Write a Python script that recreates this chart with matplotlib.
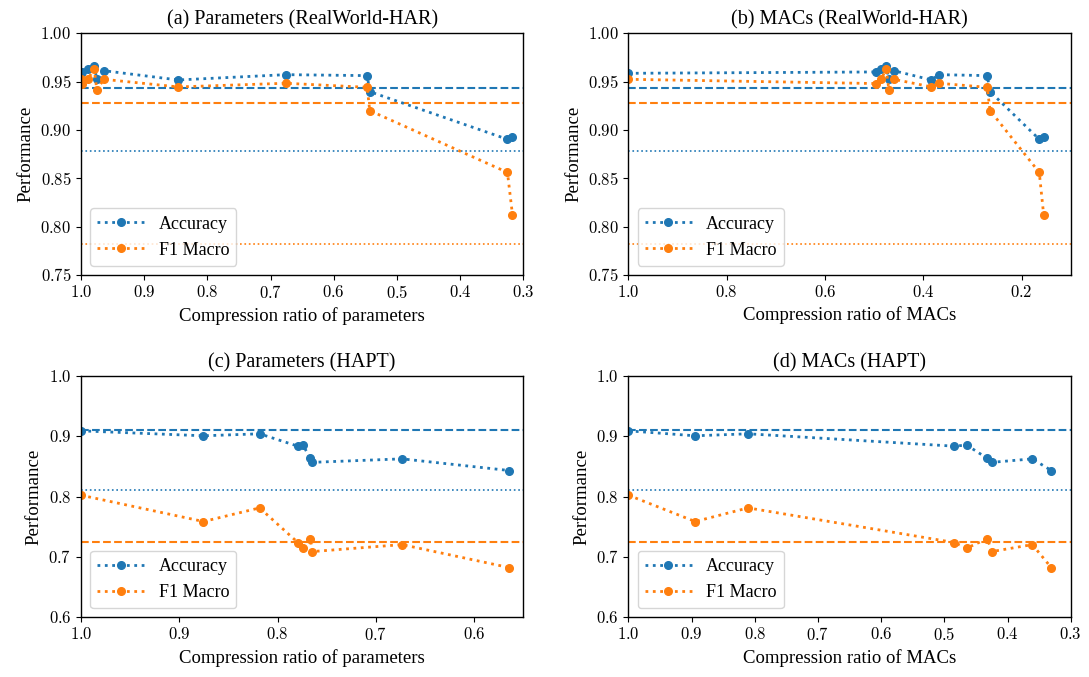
import numpy as np
import matplotlib
matplotlib.use("Agg")
import matplotlib.pyplot as plt
from matplotlib.ticker import FuncFormatter

plt.rcParams['font.family'] = 'Liberation Serif'
plt.rcParams['mathtext.fontset'] = 'cm'

# RealWorld-HAR: baseline first, then the compressed models
har_params = [1.0, 0.998, 0.989, 0.979, 0.975, 0.964, 0.846, 0.676, 0.547, 0.543, 0.325, 0.317]
har_macs = [1.0, 0.497, 0.4855, 0.4753, 0.470, 0.460, 0.3834, 0.3685, 0.270, 0.264, 0.164, 0.155]
har_acc = [0.9586, 0.960, 0.963, 0.966, 0.9524, 0.9613, 0.9517, 0.9572, 0.9562, 0.9396, 0.8903, 0.8931]
har_f1 = [0.9524, 0.948, 0.953, 0.963, 0.9414, 0.9524, 0.9445, 0.9483, 0.9441, 0.920, 0.856, 0.812]
har_ref = {'acc_dashed': 0.9434, 'f1_dashed': 0.9279, 'acc_dotted': 0.878, 'f1_dotted': 0.782}

# HAPT
hapt_params = [1.0, 0.8754, 0.8183, 0.7793, 0.7742, 0.7667, 0.765, 0.6733, 0.5643]
hapt_macs = [1.0, 0.8945, 0.8107, 0.4842, 0.4647, 0.432, 0.425, 0.3608, 0.3307]
hapt_acc = [0.9088, 0.9006, 0.9039, 0.8834, 0.8853, 0.8632, 0.8566, 0.8624, 0.8431]
hapt_f1 = [0.8022, 0.7586, 0.7812, 0.7238, 0.7144, 0.7304, 0.7088, 0.7204, 0.6823]
hapt_ref = {'acc_dashed': 0.910, 'f1_dashed': 0.7254, 'acc_dotted': 0.8116}

blue = '#1f77b4'
orange = '#ff7f0e'

fig, axes = plt.subplots(2, 2, figsize=(10.89, 6.77), dpi=100)
fig.subplots_adjust(left=0.0744, right=0.9832, top=0.9508, bottom=0.0882,
                    wspace=0.238, hspace=0.418)

panels = [
    (axes[0, 0], har_params, har_acc, har_f1, har_ref, '(a) Parameters (RealWorld-HAR)',
     'Compression ratio of parameters', (1.0, 0.3), np.arange(1.0, 0.25, -0.1), (0.75, 1.0), np.arange(0.75, 1.001, 0.05), '%.2f'),
    (axes[0, 1], har_macs, har_acc, har_f1, har_ref, '(b) MACs (RealWorld-HAR)',
     'Compression ratio of MACs', (1.0, 0.1), np.arange(1.0, 0.15, -0.2), (0.75, 1.0), np.arange(0.75, 1.001, 0.05), '%.2f'),
    (axes[1, 0], hapt_params, hapt_acc, hapt_f1, hapt_ref, '(c) Parameters (HAPT)',
     'Compression ratio of parameters', (1.0, 0.55), np.arange(1.0, 0.55, -0.1), (0.6, 1.0), np.arange(0.6, 1.001, 0.1), '%.1f'),
    (axes[1, 1], hapt_macs, hapt_acc, hapt_f1, hapt_ref, '(d) MACs (HAPT)',
     'Compression ratio of MACs', (1.0, 0.3), np.arange(1.0, 0.25, -0.1), (0.6, 1.0), np.arange(0.6, 1.001, 0.1), '%.1f'),
]

for ax, x, acc, f1, ref, title, xlabel, xlim, xticks, ylim, yticks, yfmt in panels:
    ax.axhline(ref['acc_dashed'], color=blue, ls='--', lw=1.5)
    ax.axhline(ref['f1_dashed'], color=orange, ls='--', lw=1.5)
    ax.axhline(ref['acc_dotted'], color=blue, ls=':', lw=1.2)
    if 'f1_dotted' in ref:
        ax.axhline(ref['f1_dotted'], color=orange, ls=':', lw=1.2)
    ax.plot(x, acc, ls=':', lw=2, marker='o', ms=5.5, color=blue, label='Accuracy')
    ax.plot(x, f1, ls=':', lw=2, marker='o', ms=5.5, color=orange, label='F1 Macro')
    ax.set_xlim(*xlim)
    ax.set_ylim(*ylim)
    ax.set_xticks(xticks)
    ax.set_yticks(yticks)
    ax.xaxis.set_major_formatter(FuncFormatter(lambda v, p: '$%.1f$' % v))
    ax.yaxis.set_major_formatter(FuncFormatter(lambda v, p, f=yfmt: ('$' + f + '$') % v))
    ax.tick_params(labelsize=12)
    ax.set_title(title, fontsize=14.5)
    ax.set_xlabel(xlabel, fontsize=13.5)
    ax.set_ylabel('Performance', fontsize=13.5)
    for s in ax.spines.values():
        s.set_linewidth(1.0)
    ax.legend(loc='lower left', fontsize=13, handlelength=2.6)

fig.savefig('out.png')
